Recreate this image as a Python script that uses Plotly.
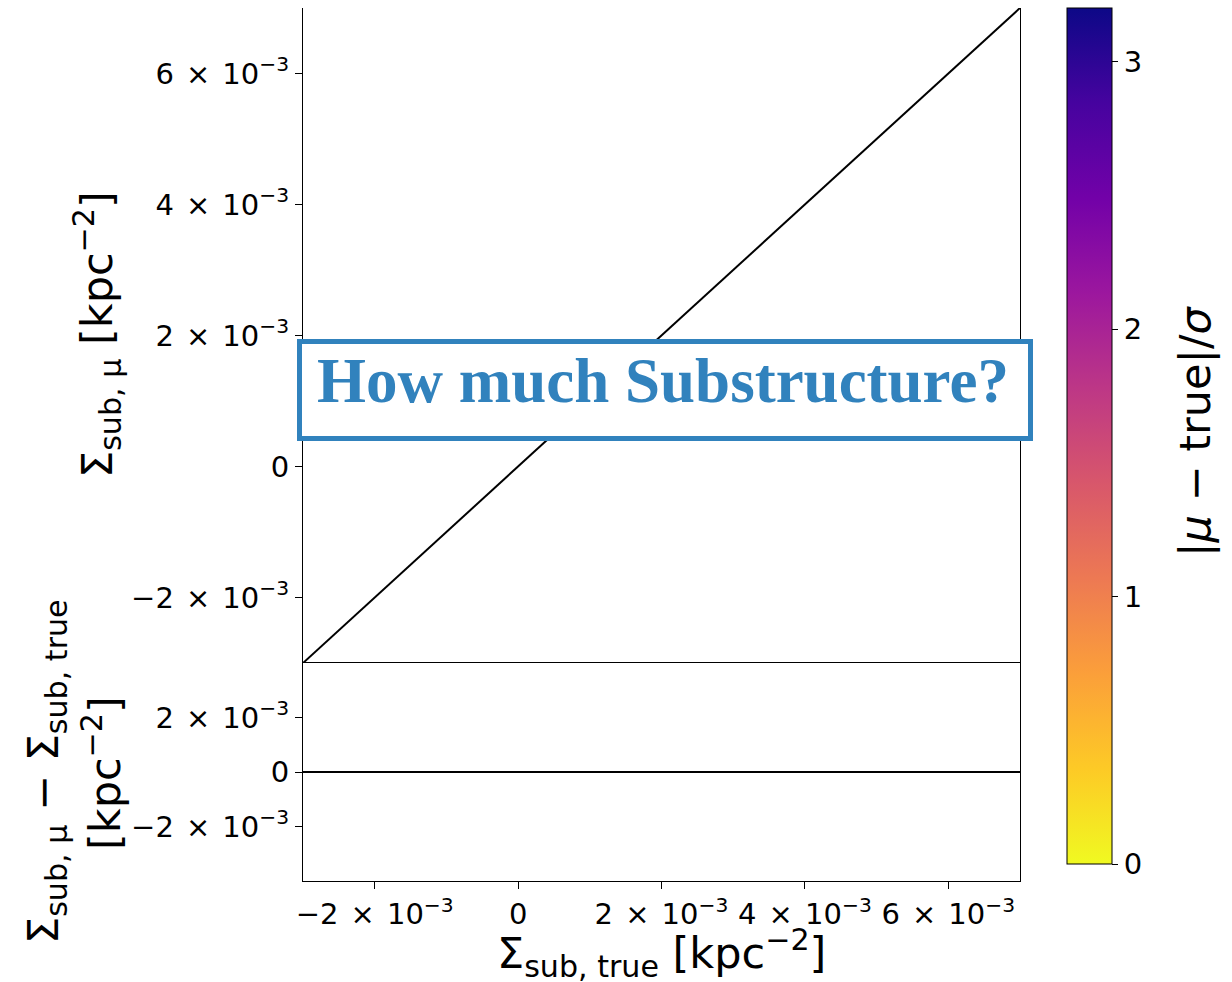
import plotly.graph_objects as go

# Reference line (identity) and zero-residual line
line_x = [-3e-3, 7e-3]
line_y = [-3e-3, 7e-3]
resid_x = [-3e-3, 7e-3]
resid_y = [0.0, 0.0]

# Scatter values (no measured points shown) – carries the colour scale
pts_true = [None]
pts_mu = [None]
pts_sig = [0.0]

x_range = [-3e-3, 7e-3]
top_range = [-3e-3, 7e-3]
bot_range = [-4e-3, 4e-3]


def sci(m):
    return f"{m}\u200a × \u200a10<sup>−3</sup>"


x_tickvals = [-2e-3, 0, 2e-3, 4e-3, 6e-3]
x_ticktext = [sci("−2"), "0", sci("2"), sci("4"), sci("6")]
top_tickvals = [-2e-3, 0, 2e-3, 4e-3, 6e-3]
top_ticktext = [sci("−2"), "0", sci("2"), sci("4"), sci("6")]
bot_tickvals = [-2e-3, 0, 2e-3]
bot_ticktext = [sci("−2"), "0", sci("2")]
cb_tickvals = [0, 1, 2, 3]
cb_range = [0, 3.2]

W, H = 1232, 982
FONT = "DejaVu Sans"
TICK_SIZE = 29
TITLE_SIZE = 43
BLUE = "#3182bd"


def px_x(p):
    return p / W


def px_y(p):
    return 1 - p / H


fig = go.Figure()

fig.add_trace(go.Scatter(x=line_x, y=line_y, mode="lines",
                         line=dict(color="black", width=2),
                         xaxis="x", yaxis="y", showlegend=False, hoverinfo="skip"))
fig.add_trace(go.Scatter(x=resid_x, y=resid_y, mode="lines",
                         line=dict(color="black", width=2),
                         xaxis="x", yaxis="y2", showlegend=False, hoverinfo="skip"))
fig.add_trace(go.Scatter(
    x=pts_true, y=pts_mu, mode="markers", xaxis="x", yaxis="y",
    showlegend=False,
    marker=dict(color=pts_sig, colorscale="Plasma", reversescale=True,
                cmin=cb_range[0], cmax=cb_range[1], showscale=True,
                colorbar=dict(
                    x=px_x(1067), xanchor="left", xpad=0,
                    y=px_y(8), yanchor="top", ypad=0,
                    lenmode="pixels", len=856,
                    thicknessmode="pixels", thickness=45,
                    outlinecolor="black", outlinewidth=1,
                    ticks="outside", ticklen=6, tickcolor="black",
                    tickvals=cb_tickvals,
                    tickfont=dict(family=FONT, size=TICK_SIZE, color="black"),
                ))))

axis_common = dict(showline=True, linecolor="black", linewidth=1, mirror=True,
                   showgrid=False, zeroline=False, automargin=False,
                   tickfont=dict(family=FONT, size=TICK_SIZE, color="black"))

fig.update_layout(
    width=W, height=H,
    margin=dict(l=0, r=0, t=0, b=0, autoexpand=False),
    paper_bgcolor="white", plot_bgcolor="white",
    xaxis=dict(domain=[px_x(303), px_x(1020)], range=x_range, anchor="y2",
               ticks="outside", ticklen=7, tickcolor="black",
               tickvals=x_tickvals, ticktext=x_ticktext, **axis_common),
    xaxis2=dict(domain=[px_x(303), px_x(1020)], range=x_range, anchor="y",
                matches="x", showticklabels=False, ticks="", **axis_common),
    yaxis=dict(domain=[px_y(663), px_y(8)], range=top_range, anchor="x",
               ticks="outside", ticklen=7, tickcolor="black",
               tickvals=top_tickvals, ticktext=top_ticktext, **axis_common),
    yaxis2=dict(domain=[px_y(881), px_y(663)], range=bot_range, anchor="x",
                ticks="outside", ticklen=7, tickcolor="black",
                tickvals=bot_tickvals, ticktext=bot_ticktext, **axis_common),
)

title_font = dict(family=FONT, size=TITLE_SIZE, color="black")
fig.add_annotation(text="Σ<sub>sub, true</sub> [kpc<sup>−2</sup>]",
                   xref="paper", yref="paper", x=px_x(661), y=px_y(953),
                   xanchor="center", yanchor="middle", showarrow=False,
                   font=title_font)
fig.add_annotation(text="Σ<sub>sub, μ</sub> [kpc<sup>−2</sup>]",
                   xref="paper", yref="paper", x=px_x(97), y=px_y(335),
                   xanchor="center", yanchor="middle", showarrow=False,
                   textangle=-90, font=title_font)
fig.add_annotation(text="Σ<sub>sub, μ</sub> − Σ<sub>sub, true</sub>",
                   xref="paper", yref="paper", x=px_x(46), y=px_y(772),
                   xanchor="center", yanchor="middle", showarrow=False,
                   textangle=-90, font=title_font)
fig.add_annotation(text="[kpc<sup>−2</sup>]",
                   xref="paper", yref="paper", x=px_x(102), y=px_y(773),
                   xanchor="center", yanchor="middle", showarrow=False,
                   textangle=-90, font=title_font)
# Colour-bar label
fig.add_annotation(text="|<i>μ</i> − true|/<i>σ</i>",
                   xref="paper", yref="paper", x=px_x(1195), y=px_y(432),
                   xanchor="center", yanchor="middle", showarrow=False,
                   textangle=-90, font=title_font)

# Banner box
fig.add_shape(type="rect", xref="paper", yref="paper",
              x0=px_x(299.5), x1=px_x(1030.5), y0=px_y(438.5), y1=px_y(341.5),
              line=dict(color=BLUE, width=5), fillcolor="white", layer="above")
fig.add_annotation(text="<b>How much Substructure?</b>",
                   xref="paper", yref="paper", x=px_x(663), y=px_y(381),
                   xanchor="center", yanchor="middle", showarrow=False,
                   font=dict(family="Liberation Serif", size=63, color=BLUE))

fig.write_html("out.html")
